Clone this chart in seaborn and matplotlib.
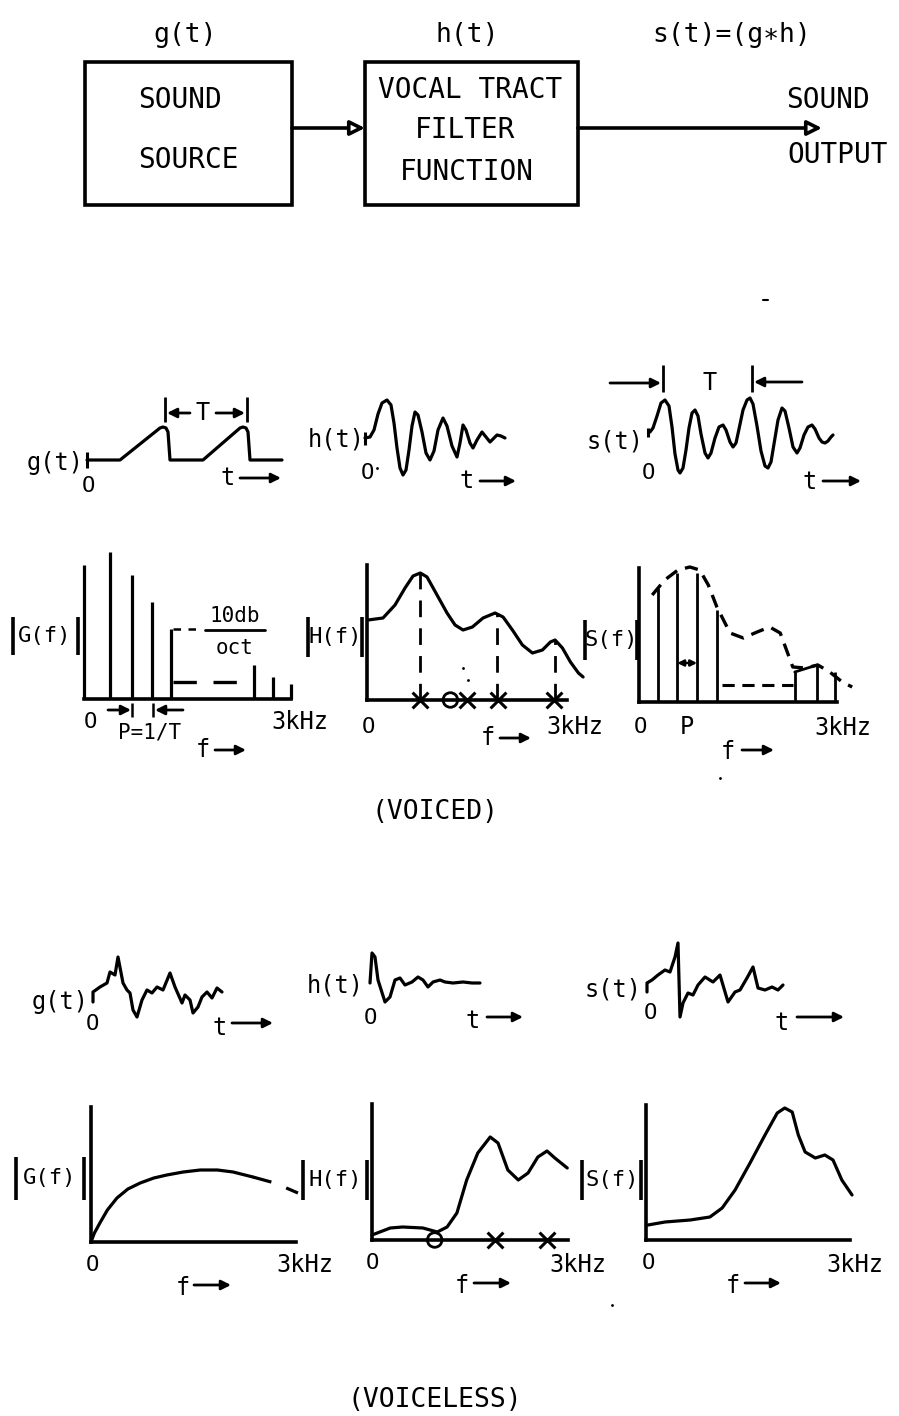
import matplotlib
matplotlib.use("Agg")
import matplotlib.pyplot as plt
from matplotlib.patches import Rectangle
import seaborn as sns

# ---------------- data ----------------
# time panels: t and amplitude in units of 10 drawing px, origin at the "0" tick
vg_t = [0, 3.3, 7.3, 7.6, 7.9, 8.1, 8.3, 11.6, 15.3, 15.6, 15.9, 16.1, 16.3, 19.5]
vg_a = [0, 0, 3.2, 3.3, 3.2, 2.8, 0, 0, 3.2, 3.3, 3.2, 2.8, 0, 0]

vh_t = [0, 0.5, 0.9, 1.3, 1.7, 2.2, 2.6, 2.9, 3.2, 3.5, 3.8, 4.1, 4.4, 4.7, 5.0, 5.3,
        5.7, 6.1, 6.5, 6.9, 7.3, 7.8, 8.2, 8.7, 9.2, 9.5, 9.8, 10.1, 10.5, 10.8, 11.2,
        11.7, 12.1, 12.5, 12.9, 13.2, 13.6, 14.0]
vh_a = [0, 0.1, 0.8, 2.4, 3.5, 3.8, 3.3, 1.5, -1.0, -3.0, -3.7, -3.2, -1.2, 1.2, 2.6, 2.3,
        0.6, -1.5, -2.2, -1.3, 0.8, 2.0, 1.2, -0.8, -1.9, -0.5, 1.3, 0.8, -0.5, -1.0, -0.2,
        0.6, 0.1, -0.4, 0.0, 0.3, 0.2, 0.0]

vs_t = [0, 0.3, 0.7, 1.1, 1.5, 1.9, 2.2, 2.5, 2.8, 3.0, 3.3, 3.6, 3.9, 4.2, 4.5, 4.8, 5.1,
        5.5, 5.8, 6.1, 6.5, 6.9, 7.3, 7.6, 8.0, 8.3, 8.6, 8.9, 9.3, 9.7, 10.0, 10.3, 10.7,
        11.1, 11.5, 11.8, 12.1, 12.4, 12.8, 13.2, 13.5, 13.9, 14.3, 14.7, 15.0, 15.4, 15.8,
        16.2, 16.5, 16.9, 17.2, 17.5, 17.8, 18.1, 18.3]
vs_a = [0, 0.4, 1.6, 2.9, 3.2, 2.6, 0.5, -2.2, -3.8, -4.1, -3.6, -1.8, 0.4, 1.9, 2.2, 1.6, -0.2,
        -2.1, -2.6, -2.1, -0.6, 0.5, 0.7, 0.2, -1.0, -1.5, -1.1, 0.3, 2.2, 3.2, 3.4, 2.8, 0.6,
        -1.9, -3.4, -3.6, -3.0, -1.2, 1.2, 2.4, 2.1, 0.4, -1.5, -2.1, -1.6, -0.3, 0.5,
        0.7, 0.3, -0.6, -1.0, -1.1, -0.9, -0.5, -0.3]

# voiced spectra: f in kHz, amplitude in relative units
vG_f = [0, 0.38, 0.70, 0.99, 1.26, 2.46, 2.74, 3.0]
vG_amp = [1.34, 1.47, 1.24, 0.97, 0.70, 0.34, 0.22, 0.15]
vG_slope_f = [1.29, 1.72]
vG_slope_a = [0.70, 0.70]
vG_floor_f = [1.29, 2.38]
vG_floor_a = [0.17, 0.17]

vH_f = [0.015, 0.24, 0.42, 0.57, 0.69, 0.80, 0.90, 1.05, 1.20, 1.32, 1.44, 1.58, 1.74,
        1.92, 2.04, 2.18, 2.33, 2.48, 2.63, 2.75, 2.82, 2.93, 3.05, 3.17, 3.24]
vH_a = [0.80, 0.82, 0.95, 1.12, 1.24, 1.27, 1.23, 1.05, 0.87, 0.75, 0.70, 0.73, 0.82,
        0.87, 0.83, 0.70, 0.55, 0.47, 0.50, 0.58, 0.60, 0.52, 0.38, 0.27, 0.23]
vH_formant_f = [0.80, 1.95, 2.82]
vH_formant_a = [1.27, 0.86, 0.60]
vH_pole_f = [0.80, 1.50, 1.97, 2.81]
vH_zero_f = [1.25]

vS_f = [0.29, 0.58, 0.88, 1.18, 2.36, 2.70, 2.97]
vS_amp = [1.14, 1.29, 1.29, 0.92, 0.30, 0.37, 0.30]
vS_env_f = [0.20, 0.39, 0.59, 0.77, 0.92, 1.05, 1.18, 1.38, 1.58, 1.79, 1.98, 2.14, 2.33,
            2.52, 2.71, 2.89, 3.08, 3.23]
vS_env_a = [1.07, 1.22, 1.32, 1.35, 1.32, 1.17, 0.95, 0.69, 0.64, 0.70, 0.75, 0.69, 0.35,
            0.34, 0.37, 0.30, 0.20, 0.15]
vS_cap_f = [2.36, 2.70]
vS_cap_a = [0.30, 0.37]
vS_floor_f = [1.26, 2.33]
vS_floor_a = [0.17, 0.17]
vS_period_f = [0.58, 0.88]
vS_period_a = 0.39

# voiceless time panels
ug_t = [0, 0, 0.7, 1.4, 1.7, 2.2, 2.5, 3.0, 3.4, 3.7, 4.0, 4.4, 4.9, 5.4, 5.9, 6.4, 7.0,
        7.7, 8.2, 8.9, 9.2, 9.7, 10.0, 10.5, 10.9, 11.4, 11.9, 12.4, 12.9]
ug_a = [0, 1.0, 1.5, 1.9, 3.0, 2.7, 4.5, 1.9, 1.2, 0.9, -0.8, -1.5, 0.2, 1.2, 0.9, 1.5, 1.2,
        2.9, 1.5, -0.1, 0.7, 0.2, -1.1, -0.5, 0.5, 1.0, 0.4, 1.4, 1.0]

uh_t = [0, 0.2, 0.5, 0.8, 1.5, 2.0, 2.5, 3.0, 3.5, 4.2, 4.8, 5.3, 5.8, 6.3, 7.0, 7.5, 8.3,
        9.3, 10.2, 11.0]
uh_a = [0, 3.0, 2.6, 0.3, -1.9, -1.4, 0.3, 0.5, -0.2, 0.1, 0.6, 0.3, -0.4, 0.1, 0.3, 0.1, 0,
        0.1, 0, 0]

us_t = [0, 0, 0.5, 1.1, 1.8, 2.3, 2.8, 3.1, 3.3, 3.6, 4.1, 4.6, 5.1, 5.8, 6.6, 7.3, 8.1,
        8.8, 9.3, 10.0, 10.6, 11.1, 11.8, 12.5, 13.1, 13.6]
us_a = [0, 0.9, 1.2, 1.7, 2.2, 2.0, 3.5, 4.9, -2.5, -1.1, -0.1, -0.3, 0.7, 1.5, 1.0, 1.7, -1.0,
        0, 0.2, 1.4, 2.5, 0.4, 0.2, 0.5, 0.2, 0.7]

# voiceless spectra
uG_f = [0, 0.05, 0.13, 0.24, 0.38, 0.54, 0.72, 0.92, 1.11, 1.35, 1.60, 1.85, 2.08, 2.37]
uG_a = [0, 0.09, 0.19, 0.32, 0.44, 0.53, 0.59, 0.64, 0.67, 0.70, 0.72, 0.72, 0.70, 0.65]
uG_tail_f = [2.37, 2.69, 3.03]
uG_tail_a = [0.65, 0.59, 0.49]

uH_f = [0, 0.28, 0.47, 0.78, 1.00, 1.15, 1.30, 1.45, 1.62, 1.81, 1.93, 2.08, 2.24, 2.39,
        2.54, 2.68, 2.80, 2.99]
uH_a = [0.05, 0.12, 0.13, 0.12, 0.08, 0.13, 0.27, 0.60, 0.87, 1.03, 0.97, 0.70, 0.60, 0.67,
        0.83, 0.89, 0.82, 0.72]
uH_pole_f = [1.88, 2.68]
uH_zero_f = [0.96]

uS_f = [0.03, 0.28, 0.65, 0.94, 1.12, 1.31, 1.53, 1.75, 1.93, 2.04, 2.15, 2.24, 2.34, 2.49,
        2.63, 2.75, 2.88, 3.03]
uS_a = [0.15, 0.18, 0.20, 0.23, 0.32, 0.50, 0.77, 1.05, 1.27, 1.32, 1.28, 1.05, 0.88, 0.82,
        0.85, 0.80, 0.60, 0.45]

# ---------------- figure ----------------
sns.set_style("white")
plt.rcParams["font.family"] = ["DejaVu Sans Mono", "DejaVu Sans"]

W, H = 899, 1416
LW = 2.3
fig = plt.figure(figsize=(W / 100, H / 100), dpi=100)
over = fig.add_axes([0, 0, 1, 1])
over.set_xlim(0, W)
over.set_ylim(H, 0)
over.axis("off")


def panel(ox, base, sx, sy, xlim, ylim):
    left = ox + xlim[0] * sx
    right = ox + xlim[1] * sx
    top = base - ylim[1] * sy
    bot = base - ylim[0] * sy
    ax = fig.add_axes([left / W, 1 - bot / H, (right - left) / W, (bot - top) / H])
    ax.set_xlim(*xlim)
    ax.set_ylim(*ylim)
    ax.set_facecolor("none")
    return ax


def curve(ax, x, y, ls="-", lw=LW):
    sns.lineplot(x=x, y=y, ax=ax, color="k", lw=lw, sort=False, estimator=None,
                 linestyle=ls, clip_on=False, solid_joinstyle="round",
                 solid_capstyle="round")


def time_axes(ox, base, tmax):
    ax = panel(ox, base, 10, 10, (-0.5, tmax + 0.5), (-5, 5))
    ax.axis("off")
    return ax


def freq_axes(ox, base, sx, xmax, ytop, left_axis=True):
    ax = panel(ox, base, sx, 100, (-0.1, xmax), (-0.15, 1.55))
    for s in ("top", "right"):
        ax.spines[s].set_visible(False)
    ax.spines["bottom"].set_position(("data", 0))
    ax.spines["bottom"].set_bounds(0, 3)
    ax.spines["left"].set_position(("data", 0))
    ax.spines["left"].set_bounds(0, ytop)
    ax.spines["left"].set_visible(left_axis)
    for s in ("bottom", "left"):
        ax.spines[s].set_color("k")
        ax.spines[s].set_linewidth(2.6)
    ax.set_xticks([3])
    ax.set_yticks([])
    ax.tick_params(axis="x", direction="inout", length=14, width=2.2, color="k",
                   labelbottom=False)
    return ax


def label(x, y, s, size=16):
    over.text(x, y, s, ha="center", va="center", fontsize=size, color="k")


def arrow(x0, y0, x1, y1, hollow=False, scale=14, lw=2.0):
    props = dict(arrowstyle="-|>", lw=lw, mutation_scale=scale, shrinkA=0, shrinkB=0,
                 edgecolor="k", facecolor="white" if hollow else "k")
    over.annotate("", xy=(x1, y1), xytext=(x0, y0), arrowprops=props)


def t_arrow(x, y, x0, x1, ay):
    label(x, y, "t", 17)
    arrow(x0, ay, x1, ay)


def f_arrow(x, y, x0, x1, ay):
    label(x, y, "f", 17)
    arrow(x0, ay, x1, ay)


def mag(x, y, s, xl, xr, y0, y1):
    label(x, y, s, 16)
    over.vlines([xl, xr], y0, y1, color="k", lw=2.6)


# ---------------- block diagram ----------------
label(185, 35, "g(t)", 19)
label(467, 35, "h(t)", 19)
label(732, 35, "s(t)=(g∗h)", 19)
over.add_patch(Rectangle((85, 62), 207, 143, fill=False, lw=2.6, ec="k"))
over.add_patch(Rectangle((365, 62), 213, 143, fill=False, lw=2.6, ec="k"))
label(180, 100, "SOUND", 20)
label(188, 160, "SOURCE", 20)
label(470, 90, "VOCAL TRACT", 20)
label(465, 130, "FILTER", 20)
label(467, 172, "FUNCTION", 20)
label(828, 100, "SOUND", 20)
label(838, 155, "OUTPUT", 20)
arrow(292, 128, 365, 128, hollow=True, scale=22, lw=2.6)
arrow(578, 128, 822, 128, hollow=True, scale=22, lw=2.6)
over.plot([763, 768], [300, 300], color="k", lw=1.5)

# ---------------- voiced: time ----------------
ax = time_axes(87, 460, 19.5)
curve(ax, vg_t, vg_a)
label(55, 463, "g(t)", 17)
over.vlines(87, 452, 468, color="k", lw=2.2)
label(88, 486, "O", 16)
t_arrow(228, 478, 240, 281, 478)
over.vlines([165, 247], 397, 422, color="k", lw=2.0)
label(203, 413, "T", 17)
arrow(190, 413, 167, 413)
arrow(216, 413, 245, 413)

ax = time_axes(365, 438, 14)
curve(ax, vh_t, vh_a)
label(336, 440, "h(t)", 17)
over.vlines(365, 432, 445, color="k", lw=2.2)
label(367, 473, "O", 16)
over.plot([377], [468], "k.", ms=2)
t_arrow(467, 481, 480, 516, 481)

ax = time_axes(650, 432, 18.3)
curve(ax, vs_t, vs_a)
label(615, 442, "s(t)", 17)
over.vlines(648, 428, 437, color="k", lw=2.2)
label(648, 473, "O", 16)
t_arrow(810, 482, 823, 861, 481)
over.vlines([663, 752], 365, 392, color="k", lw=2.0)
arrow(610, 383, 661, 383)
arrow(802, 382, 754, 382)
label(710, 383, "T", 17)

# ---------------- voiced: spectra ----------------
ax = freq_axes(84, 699, 69, 3.15, 1.34, left_axis=False)
ax.vlines(vG_f, 0, vG_amp, color="k", lw=LW)
curve(ax, vG_slope_f, vG_slope_a, ls=(0, (3, 3)), lw=1.8)
curve(ax, vG_floor_f, vG_floor_a, ls=(0, (7, 5)), lw=2.4)
mag(45, 636, "G(f)", 13, 78, 617, 655)
over.plot([205, 265], [630, 630], color="k", lw=2.0)
label(235, 616, "10db", 15)
label(235, 648, "oct", 15)
label(90, 722, "O", 16)
arrow(108, 710, 131, 710)
arrow(183, 710, 155, 710)
over.vlines([132, 153], 703, 717, color="k", lw=1.8)
label(150, 733, "P=1/T", 15)
f_arrow(203, 750, 215, 246, 750)
label(300, 722, "3kHz", 17)

ax = freq_axes(367, 700, 66.7, 3.3, 1.35)
curve(ax, vH_f, vH_a)
ax.vlines(vH_formant_f, 0, vH_formant_a, color="k", lw=2.0, linestyles=(0, (6, 4)))
sns.scatterplot(x=vH_pole_f, y=[0] * len(vH_pole_f), ax=ax, marker="x", s=130,
                color="k", linewidth=2.2, clip_on=False)
sns.scatterplot(x=vH_zero_f, y=[0] * len(vH_zero_f), ax=ax, marker="o", s=110,
                facecolor="none", edgecolor="k", linewidth=2.0, clip_on=False)
mag(335, 637, "H(f)", 308, 362, 617, 657)
over.plot([463, 468], [668, 680], "k.", ms=2)
label(368, 727, "O", 16)
f_arrow(488, 738, 500, 531, 738)
label(575, 727, "3kHz", 17)

ax = freq_axes(639, 702, 66, 3.3, 1.34)
ax.vlines(vS_f, 0, vS_amp, color="k", lw=2.0)
curve(ax, vS_env_f, vS_env_a, ls=(0, (4, 2.5)), lw=2.4)
curve(ax, vS_cap_f, vS_cap_a, lw=2.0)
curve(ax, vS_floor_f, vS_floor_a, ls=(0, (4, 2.5)), lw=2.2)
ax.annotate("", xy=(vS_period_f[1], vS_period_a), xytext=(vS_period_f[0], vS_period_a),
            arrowprops=dict(arrowstyle="<|-|>", lw=1.8, color="k", mutation_scale=9,
                            shrinkA=0, shrinkB=0))
mag(611, 640, "S(f)", 585, 637, 620, 660)
label(640, 727, "O", 16)
label(687, 727, "P", 17)
label(843, 728, "3kHz", 17)
f_arrow(728, 752, 742, 774, 750)
over.plot([720], [778], "k.", ms=2)
label(435, 812, "(VOICED)", 19)

# ---------------- voiceless: time ----------------
ax = time_axes(93, 1002, 12.9)
curve(ax, ug_t, ug_a)
label(60, 1002, "g(t)", 17)
label(92, 1024, "O", 16)
t_arrow(220, 1028, 232, 273, 1023)

ax = time_axes(370, 983, 11)
curve(ax, uh_t, uh_a)
label(335, 985, "h(t)", 17)
label(370, 1018, "O", 16)
t_arrow(473, 1021, 487, 523, 1017)

ax = time_axes(647, 992, 13.6)
curve(ax, us_t, us_a)
label(613, 990, "s(t)", 17)
label(650, 1013, "O", 16)
t_arrow(782, 1023, 797, 844, 1017)

# ---------------- voiceless: spectra ----------------
ax = freq_axes(91, 1242, 68.3, 3.15, 1.35)
curve(ax, uG_f, uG_a)
curve(ax, uG_tail_f, uG_tail_a, ls=(0, (6, 5)))
mag(50, 1178, "G(f)", 16, 84, 1157, 1200)
label(92, 1265, "O", 16)
label(305, 1265, "3kHz", 17)
f_arrow(183, 1288, 194, 231, 1285)

ax = freq_axes(372, 1240, 65.3, 3.15, 1.36)
curve(ax, uH_f, uH_a)
sns.scatterplot(x=uH_pole_f, y=[0] * len(uH_pole_f), ax=ax, marker="x", s=130,
                color="k", linewidth=2.2, clip_on=False)
sns.scatterplot(x=uH_zero_f, y=[0] * len(uH_zero_f), ax=ax, marker="o", s=110,
                facecolor="none", edgecolor="k", linewidth=2.0, clip_on=False)
mag(335, 1180, "H(f)", 303, 367, 1160, 1200)
label(372, 1263, "O", 16)
label(578, 1265, "3kHz", 17)
f_arrow(462, 1286, 474, 511, 1283)

ax = freq_axes(646, 1240, 68, 3.15, 1.35)
curve(ax, uS_f, uS_a)
mag(612, 1180, "S(f)", 582, 641, 1160, 1200)
label(648, 1263, "O", 16)
label(855, 1265, "3kHz", 17)
f_arrow(733, 1286, 745, 781, 1283)
over.plot([612], [1305], "k.", ms=2)
label(435, 1400, "(VOICELESS)", 19)

fig.savefig("out.png", dpi=100)
